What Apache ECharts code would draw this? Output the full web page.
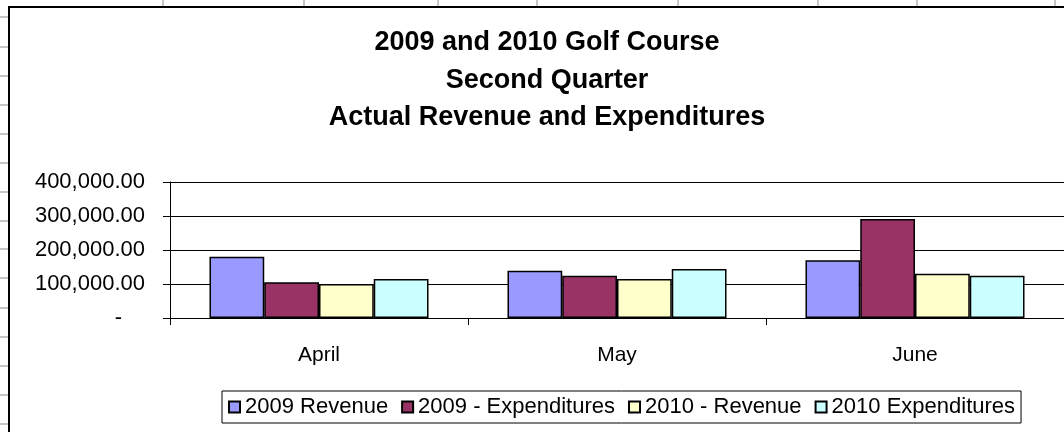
<!DOCTYPE html>
<html>
<head>
<meta charset="utf-8">
<script src="https://cdn.jsdelivr.net/npm/echarts@6/dist/echarts.min.js"></script>
<style>
  html, body { margin: 0; padding: 0; background: #fff; }
  #chart { width: 1064px; height: 432px; }
</style>
</head>
<body>
<div id="chart"></div>
<script>
const categories = ['April', 'May', 'June'];
const seriesNames = ['2009 Revenue', '2009 - Expenditures', '2010 - Revenue', '2010 Expenditures'];
const revenue2009 = [180000, 139000, 170000];
const expenditures2009 = [105000, 124000, 291000];
const revenue2010 = [100000, 115000, 130000];
const expenditures2010 = [115000, 144000, 124000];
const yTicks = [0, 100000, 200000, 300000, 400000];
const titleLines = ['2009 and 2010 Golf Course', 'Second Quarter', 'Actual Revenue and Expenditures'];

const colors = ['#9999FF', '#993366', '#FFFFCC', '#CCFFFF'];
const values = [revenue2009, expenditures2009, revenue2010, expenditures2010];
const FONT = "'Liberation Sans', Arial, sans-serif";

// spreadsheet cell borders visible outside the chart object (decoration)
const sheetRowLines = [17, 47, 76, 105, 134, 163, 192, 221, 249, 278, 308, 337, 366, 395, 424];
const sheetColLines = [163, 304, 438, 537, 678, 818, 917, 1055];

function fmt(v) {
  if (v === 0) return '{dash|-}';
  return v.toLocaleString('en-US', { minimumFractionDigits: 2, maximumFractionDigits: 2 });
}

const graphics = [];
sheetRowLines.forEach(y => graphics.push({
  type: 'line', silent: true, z: -10,
  shape: { x1: 0, y1: y, x2: 8, y2: y },
  style: { stroke: '#c6c6c6', lineWidth: 2 }
}));
sheetColLines.forEach(x => graphics.push({
  type: 'line', silent: true, z: -10,
  shape: { x1: x, y1: 0, x2: x, y2: 6 },
  style: { stroke: '#c6c6c6', lineWidth: 2 }
}));
graphics.push({
  type: 'rect', silent: true, z: -5,
  shape: { x: 9, y: 7, width: 1200, height: 600 },
  style: { fill: '#fff', stroke: '#000', lineWidth: 2 }
});

const chart = echarts.init(document.getElementById('chart'));
chart.setOption({
  animation: false,
  backgroundColor: '#fff',
  graphic: graphics,
  title: {
    text: titleLines.join('\n'),
    left: 547,
    top: 24,
    textAlign: 'center',
    padding: 0,
    textStyle: {
      fontFamily: FONT, fontWeight: 'bold', fontSize: 27,
      lineHeight: 37.5, color: '#000'
    }
  },
  legend: {
    data: seriesNames,
    left: 222,
    top: 391,
    orient: 'horizontal',
    icon: 'rect',
    itemWidth: 11,
    itemHeight: 11,
    itemGap: 13,
    padding: [5, 6, 5, 6],
    borderColor: '#000',
    borderWidth: 1,
    backgroundColor: '#fff',
    textStyle: { fontFamily: FONT, fontSize: 22, color: '#000' }
  },
  grid: { left: 170, right: -3, top: 182, bottom: 114, containLabel: false },
  xAxis: {
    type: 'category',
    data: categories,
    boundaryGap: true,
    axisLine: { lineStyle: { color: '#000', width: 1 } },
    axisTick: { show: true, length: 7, inside: false, lineStyle: { color: '#000' } },
    axisLabel: { fontFamily: FONT, fontSize: 21, color: '#000', margin: 27 },
    splitLine: { show: false }
  },
  yAxis: {
    type: 'value',
    min: yTicks[0],
    max: yTicks[yTicks.length - 1],
    interval: yTicks[1] - yTicks[0],
    axisLine: { show: true, lineStyle: { color: '#000', width: 1 } },
    axisTick: { show: true, length: 7, lineStyle: { color: '#000' } },
    splitLine: { show: true, lineStyle: { color: '#000', width: 1 } },
    axisLabel: {
      fontFamily: FONT, fontSize: 22, color: '#000', margin: 25,
      formatter: fmt,
      rich: { dash: { fontFamily: FONT, fontSize: 22, color: '#000', padding: [0, 23, 0, 0] } }
    }
  },
  series: seriesNames.map((name, i) => ({
    name: name,
    type: 'bar',
    data: values[i],
    barGap: '0%',
    barCategoryGap: '26.5%',
    itemStyle: { color: colors[i], borderColor: '#000', borderWidth: 1.5 }
  }))
});
</script>
</body>
</html>
